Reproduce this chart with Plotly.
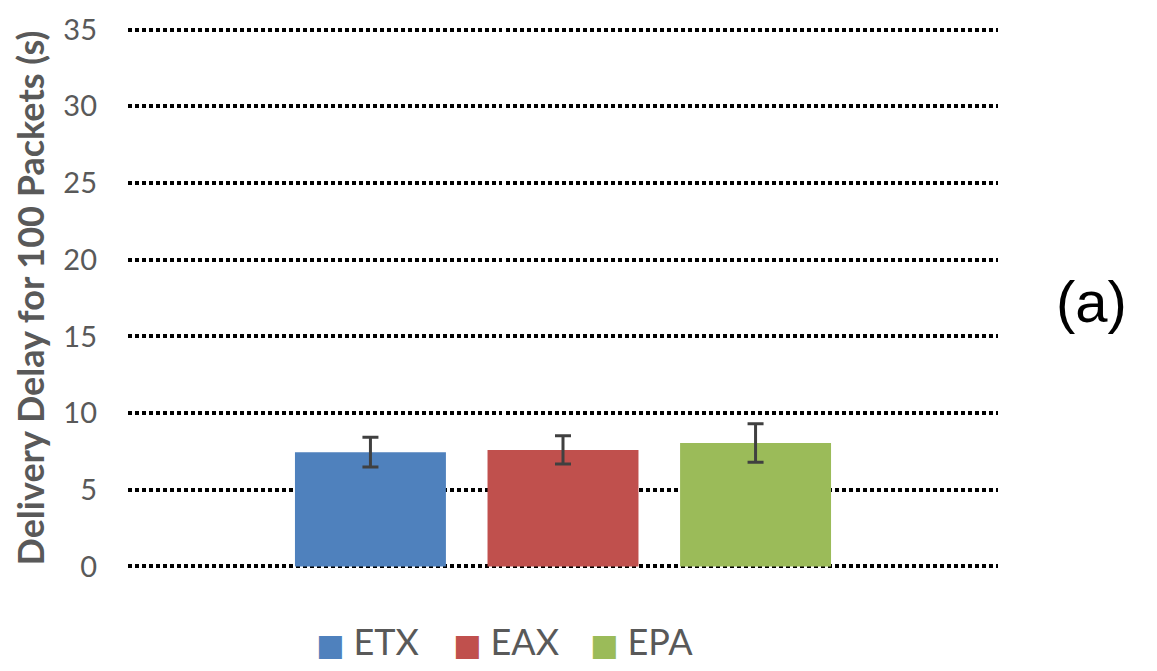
import plotly.graph_objects as go

categories = ["ETX", "EAX", "EPA"]
delay = [7.45, 7.6, 8.05]
err = [0.97, 0.92, 1.25]
colors = ["#4F81BD", "#C0504D", "#9BBB59"]
yticks = [0, 5, 10, 15, 20, 25, 30, 35]

W, H = 1149, 663  # page body has an 8px margin in the browser

fig = go.Figure()
for name, v, e, c in zip(categories, delay, err, colors):
    fig.add_trace(go.Bar(
        x=["g"], y=[v], name=name, marker=dict(color=c, line=dict(width=0)),
        error_y=dict(type="data", array=[e], color="#404040", thickness=3, width=8),
        showlegend=False,
    ))
    label = (f"<span style='color:{c};font-family:DejaVu Sans;font-size:30px'>■</span>"
             f"&nbsp;{name}")
    fig.add_trace(go.Scatter(
        x=[None], y=[None], mode="markers", name=label,
        marker=dict(symbol="square", size=1, color="rgba(0,0,0,0)"),
    ))
# blank spacer entry so the last legend label is not clipped
fig.add_trace(go.Scatter(x=[None], y=[None], mode="markers", name="&nbsp;",
                         marker=dict(size=1, color="rgba(0,0,0,0)")))

fig.update_layout(
    width=W, height=H,
    margin=dict(l=120, r=159, t=19.5, b=102.5, autoexpand=False),
    plot_bgcolor="white", paper_bgcolor="white",
    barmode="group", bargap=0.336, bargroupgap=0.216,
    font=dict(family="Lato, Open Sans, sans-serif", color="#595959"),
    xaxis=dict(showticklabels=False, showgrid=False, zeroline=False, showline=False),
    yaxis=dict(
        range=[-0.1, 35.1], tickvals=yticks, showgrid=True, gridcolor="black",
        griddash="dot", gridwidth=3.5, zeroline=False, showline=False, automargin=False,
        tickfont=dict(size=29, color="#595959"), ticklabelstandoff=30,
        title=dict(text="<b>Delivery Delay for 100 Packets (s)</b>",
                   font=dict(size=36, color="#595959"), standoff=20),
    ),
    legend=dict(orientation="h", xref="container", x=268 / W, xanchor="left",
                yref="container", y=1 - 633 / H, yanchor="middle",
                font=dict(size=36, color="#595959"), itemwidth=30, tracegroupgap=0,
                entrywidth=92, entrywidthmode="pixels"),
    annotations=[dict(text="(a)", xref="paper", yref="paper", x=(1091 - 128) / 870,
                      y=(567 - 301) / 538, xanchor="center", yanchor="middle", showarrow=False,
                      font=dict(family="Liberation Sans, Arial", size=58, color="black"))],
)

fig.write_html("out.html")
